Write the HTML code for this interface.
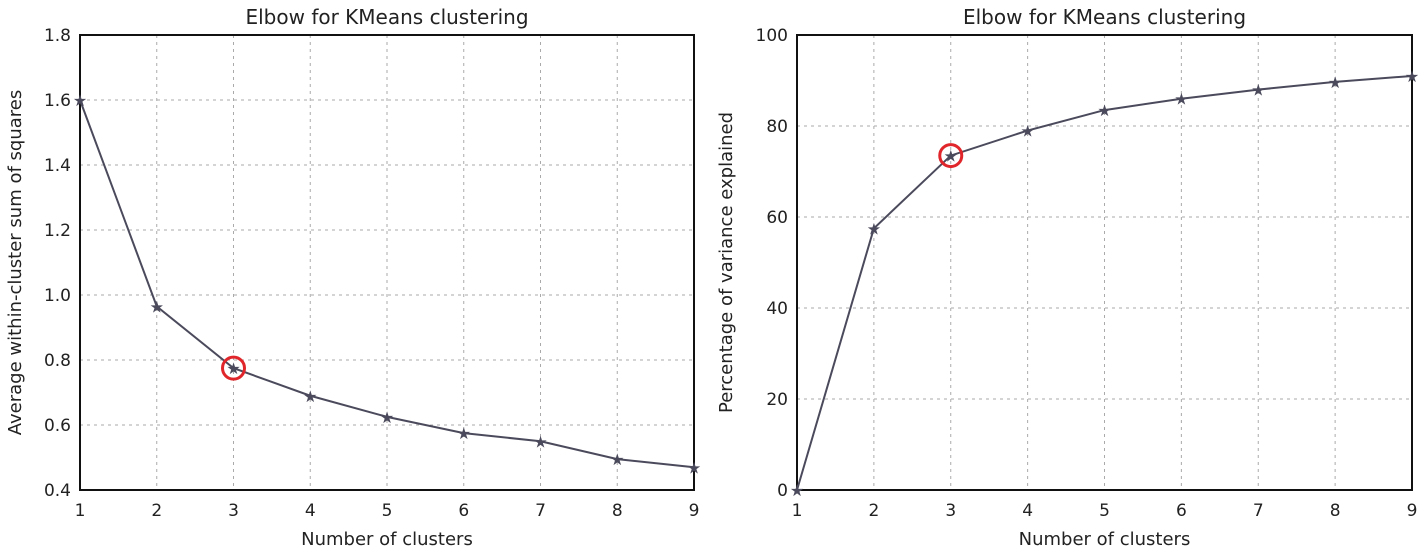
<!DOCTYPE html>
<html><head><meta charset="utf-8"><style>
body{margin:0;background:#fff;}
svg text{font-family:"DejaVu Sans","Liberation Sans",sans-serif;fill:#222;}
</style></head><body>
<svg id="s" width="1425" height="553" xmlns="http://www.w3.org/2000/svg"></svg>
<script>
const clusters=[1,2,3,4,5,6,7,8,9];
const withinSS=[1.6,0.965,0.775,0.69,0.625,0.575,0.55,0.495,0.47];
const varExplained=[0,57.5,73.5,79,83.5,86,88,89.7,91];
const leftTicks=[0.4,0.6,0.8,1.0,1.2,1.4,1.6,1.8];
const rightTicks=[0,20,40,60,80,100];
const highlightK=3;
const NS="http://www.w3.org/2000/svg";
const svg=document.getElementById('s');
function mk(t,a,p){const e=document.createElementNS(NS,t);for(const k in a)e.setAttribute(k,a[k]);(p||svg).appendChild(e);return e;}
function chart(cfg){
  const g=mk('g',{});
  
  
  const L=cfg.x0,R=cfg.x1,T=35,B=490;
  const sx=v=>L+(v-1)/(8)*(R-L);
  const sy=v=>B-(v-cfg.ymin)/(cfg.ymax-cfg.ymin)*(B-T);
  clusters.forEach(c=>{
    if(c>1&&c<9){const l=mk('line',{x1:sx(c),x2:sx(c),y1:T,y2:B,stroke:'#aaa','stroke-dasharray':'3,4'},g);
    }
    const t=mk('text',{x:sx(c),y:B+26,'text-anchor':'middle','font-size':17},g);t.textContent=c;
    
  });
  cfg.ticks.forEach((v,i)=>{
    if(i>0&&i<cfg.ticks.length-1){const l=mk('line',{x1:L,x2:R,y1:sy(v),y2:sy(v),stroke:'#aaa','stroke-dasharray':'3,4'},g);
    }
    const t=mk('text',{x:L-9,y:sy(v)+6,'text-anchor':'end','font-size':17},g);t.textContent=cfg.fmt(v);
    
  });
  const f=mk('rect',{x:L,y:T,width:R-L,height:B-T,fill:'none',stroke:'#111','stroke-width':2},g);
  
  const pts=cfg.data.map((v,i)=>sx(clusters[i])+','+sy(v)).join(' ');
  const pl=mk('polyline',{points:pts,fill:'none',stroke:'#4a4a5c','stroke-width':2},g);
  
  cfg.data.forEach((v,i)=>{
    const t=mk('text',{x:sx(clusters[i]),y:sy(v)+6,'text-anchor':'middle','font-size':16,style:'fill:#4a4a5c'},g);t.textContent='★';
    
  });
  const hi=clusters.indexOf(highlightK);
  const c=mk('circle',{cx:sx(highlightK),cy:sy(cfg.data[hi]),r:11,fill:'none',stroke:'#e0262a','stroke-width':3},g);
  
  const ti=mk('text',{x:(L+R)/2,y:24,'text-anchor':'middle','font-size':20},g);ti.textContent='Elbow for KMeans clustering';
  
  const xl=mk('text',{x:(L+R)/2,y:545,'text-anchor':'middle','font-size':18},g);xl.textContent='Number of clusters';
  
  const yl=mk('text',{x:0,y:0,'text-anchor':'middle','font-size':18,transform:`translate(${cfg.ylx},${(T+B)/2}) rotate(-90)`},g);yl.textContent=cfg.ylabel;
  
}
chart({name:'within-ss-chart',x0:80,x1:694,ymin:0.4,ymax:1.8,ticks:leftTicks,fmt:v=>v.toFixed(1),data:withinSS,ylabel:'Average within-cluster sum of squares',ylx:21});
chart({name:'variance-chart',x0:797,x1:1412,ymin:0,ymax:100,ticks:rightTicks,fmt:v=>String(v),data:varExplained,ylabel:'Percentage of variance explained',ylx:732});
</script>
</body></html>
